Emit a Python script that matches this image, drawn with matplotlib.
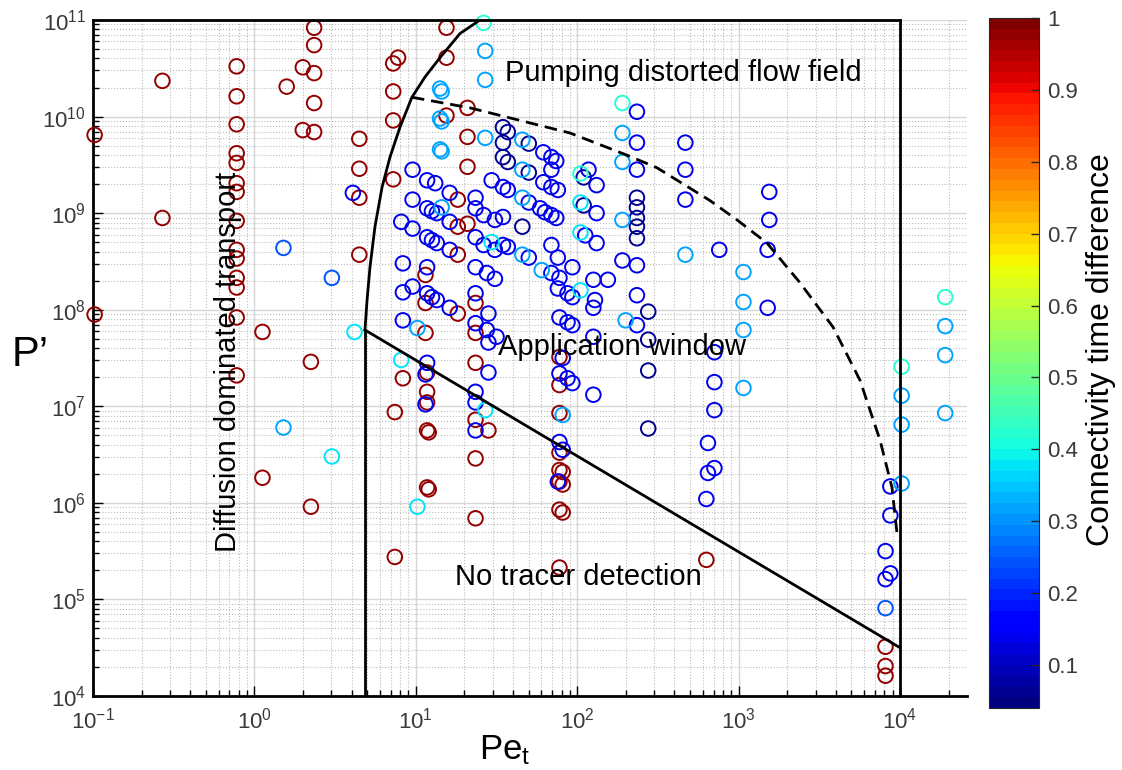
import numpy as np
import matplotlib.pyplot as plt
from matplotlib import colors, ticker
from matplotlib.cm import ScalarMappable

plt.rcParams['font.family'] = ['Liberation Sans', 'DejaVu Sans']
plt.rcParams['mathtext.fontset'] = 'custom'
plt.rcParams['mathtext.rm'] = 'Liberation Sans'
plt.rcParams['mathtext.it'] = 'Liberation Sans:italic'

# circles, stored as log10(Pe_t) and log10(P'), grouped by connectivity time difference
red_pe = [-0.99, -0.99, -0.57, -0.57,
          -0.11, -0.11, -0.11, -0.11, -0.11, -0.11, -0.11, -0.11, -0.11, -0.11, -0.11, -0.11, -0.11, -0.11,
          0.05, 0.05, 0.20, 0.30, 0.30, 0.35, 0.35,
          0.37, 0.37, 0.37, 0.37, 0.37,
          0.65, 0.65, 0.65, 0.65,
          0.86, 0.89, 0.86, 0.86, 0.86,
          1.19, 1.19, 1.19,
          1.32, 1.32, 1.32, 1.32,
          1.26, 1.26, 1.26, 1.26,
          1.06, 1.06, 1.06,
          1.37, 1.37, 1.37, 1.37, 1.37, 1.37,
          0.92, 0.87, 0.87,
          1.07, 1.07, 1.07, 1.07, 1.08, 1.07, 1.08,
          1.45,
          1.89, 1.89, 1.89, 1.89, 1.89, 1.91, 1.89, 1.91, 1.89, 1.91, 1.89,
          2.80, 3.91, 3.91, 3.91]
red_p = [9.81, 7.95, 10.37, 8.95,
         10.52, 10.21, 9.92, 9.62, 9.52, 9.31, 9.22, 8.92, 8.62, 8.53, 8.33, 8.23, 7.92, 7.32,
         7.77, 6.26, 10.31, 10.51, 9.86, 7.46, 5.96,
         10.92, 10.74, 10.45, 10.14, 9.84,
         9.77, 9.46, 9.16, 8.57,
         10.55, 10.61, 10.26, 9.96, 9.35,
         10.92, 10.61, 10.01,
         10.09, 9.79, 9.48, 8.89,
         9.14, 8.86, 8.57, 7.96,
         8.36, 8.07, 7.76,
         8.07, 7.76, 7.45, 6.86, 6.46, 5.84,
         7.29, 6.94, 5.44,
         7.35, 7.15, 7.04, 6.75, 6.73, 6.16, 6.14,
         6.75,
         7.51, 7.22, 6.93, 6.52, 6.34, 6.32, 6.22, 6.19, 5.93, 5.90, 5.33,
         5.41, 4.51, 4.31, 4.21]

dark_pe = [1.54, 1.57, 1.54, 1.54, 1.57, 1.70, 1.70, 1.66, 2.04, 2.04,
           2.37, 2.37, 2.37, 2.37, 2.37, 2.44, 2.44, 2.44, 2.44]
dark_p = [9.89, 9.84, 9.73, 9.58, 9.53, 9.72, 9.42, 8.86, 9.37, 9.08,
          9.16, 9.06, 8.95, 8.86, 8.74, 7.98, 7.69, 7.37, 6.77]

blue_pe = [0.61, 0.98, 1.07, 1.12, 1.21, 0.98, 1.07, 1.10, 1.13, 1.21,
           0.91, 0.98, 1.07, 1.10, 1.13, 1.21, 1.37, 1.37, 1.42, 1.37,
           1.42, 0.92, 1.07, 0.98, 0.92, 1.07, 1.10, 1.13, 1.21, 1.37,
           1.44, 1.49, 1.37, 1.45, 0.92, 1.37, 1.44, 1.45, 1.50, 1.07,
           1.06, 1.06, 1.45, 1.37, 1.37, 1.37, 1.47, 1.54, 1.57, 1.79,
           1.84, 1.87, 1.84, 1.79, 1.84, 1.88, 1.70, 1.49, 1.54, 1.77,
           1.80, 1.84, 1.87, 1.49, 1.54, 1.57, 1.84, 1.70, 1.88, 2.07,
           2.12, 2.12, 2.05, 2.12, 2.37, 2.37, 2.37, 2.28, 2.37, 1.84,
           1.89, 1.97, 1.88, 1.94, 1.97, 2.10, 2.19, 2.11, 2.10, 1.89,
           1.94, 1.97, 2.10, 1.91, 1.89, 1.94, 1.97, 2.10, 1.89, 1.91,
           1.88, 2.37, 2.37, 2.67, 2.67, 2.67, 2.88, 2.85, 2.85, 2.85,
           2.81, 2.81, 2.85, 2.80, 3.18, 3.19, 3.19, 3.18, 3.94, 3.94,
           3.91, 3.94, 3.91]
blue_p = [9.21, 9.45, 9.34, 9.31, 9.21, 9.14, 9.05, 9.02, 9.00, 8.91,
          8.91, 8.84, 8.75, 8.72, 8.69, 8.62, 9.16, 9.05, 8.98, 8.75,
          8.67, 8.48, 8.44, 8.24, 8.18, 8.17, 8.13, 8.10, 8.02, 8.44,
          8.38, 8.32, 8.17, 7.96, 7.89, 7.86, 7.79, 7.66, 7.72, 7.45,
          7.33, 7.02, 7.35, 7.15, 7.04, 6.75, 9.34, 9.27, 9.24, 9.63,
          9.58, 9.54, 9.45, 9.32, 9.27, 9.24, 9.11, 8.93, 8.96, 9.05,
          9.01, 8.98, 8.95, 8.62, 8.67, 8.65, 8.67, 8.54, 8.54, 9.45,
          9.29, 9.00, 8.77, 8.69, 10.05, 9.73, 9.45, 8.51, 8.46, 8.38,
          8.33, 8.44, 8.22, 8.17, 8.13, 8.31, 8.31, 8.10, 8.02, 7.92,
          7.87, 7.84, 7.72, 7.50, 7.34, 7.29, 7.24, 7.12, 6.63, 6.55,
          6.22, 8.15, 7.84, 9.73, 9.45, 9.14, 8.62, 7.56, 7.25, 6.96,
          6.62, 6.31, 6.36, 6.04, 8.62, 9.22, 8.93, 8.02, 6.17, 5.87,
          5.50, 5.27, 5.21]

light_pe = [0.18, 0.48, 3.91]
light_p = [8.64, 8.33, 4.91]

cyanblue_pe = [0.18, 1.43, 1.43, 1.15, 1.16, 1.15, 1.16, 1.15, 1.16, 1.43,
               1.16, 1.01, 1.66, 1.66, 1.66, 1.66, 2.28, 2.28, 2.28, 1.78,
               1.91, 2.30, 2.67, 3.03, 3.03, 3.03, 3.03, 4.28, 4.28, 4.28,
               4.01, 4.01, 4.01]
cyanblue_p = [6.78, 10.68, 10.38, 10.29, 10.26, 9.98, 9.95, 9.66, 9.64, 9.78,
              9.06, 7.81, 9.76, 9.45, 9.16, 8.57, 9.83, 9.53, 8.93, 8.41,
              6.91, 7.89, 8.57, 8.39, 8.08, 7.79, 7.19, 7.83, 7.53, 6.93,
              7.11, 6.81, 6.20]

cyan_pe = [0.48, 0.62, 0.91, 1.43, 1.01, 1.47, 2.02, 2.02, 2.02]
cyan_p = [6.48, 7.77, 7.48, 6.96, 5.96, 8.70, 9.11, 8.80, 8.20]

teal_pe = [1.42, 2.02, 2.28, 4.28, 4.01]
teal_p = [10.97, 9.41, 10.14, 8.13, 7.41]

groups = [(red_pe, red_p, 0.98), (dark_pe, dark_p, 0.06), (blue_pe, blue_p, 0.13),
          (light_pe, light_p, 0.24), (cyanblue_pe, cyanblue_p, 0.31),
          (cyan_pe, cyan_p, 0.37), (teal_pe, teal_p, 0.42)]

# region boundaries (log10 values)
curve_pe = [0.685, 0.698, 0.716, 0.747, 0.791, 0.840, 0.902, 0.976, 1.057, 1.150, 1.274, 1.398]
curve_p = [7.79, 8.10, 8.44, 8.86, 9.27, 9.58, 9.89, 10.20, 10.41, 10.61, 10.86, 11.0]
limit_pe = [0.685, 4.0]
limit_p = [7.79, 4.50]
dash_pe = [0.976, 1.336, 1.955, 2.309, 2.494, 2.823, 2.99, 3.176, 3.380, 3.585, 3.752, 3.876, 3.950, 3.981]
dash_p = [10.20, 10.09, 9.83, 9.60, 9.47, 9.13, 8.93, 8.69, 8.28, 7.82, 7.27, 6.65, 6.16, 5.69]

cmap = plt.get_cmap('jet', 64)
norm = colors.Normalize(vmin=0.04, vmax=1.0)

fig = plt.figure(figsize=(11.22, 7.70), dpi=100)
ax = fig.add_axes([93 / 1122, 74 / 770, 874 / 1122, 676 / 770])
ax.set_xscale('log')
ax.set_yscale('log')
ax.set_xlim(0.1, 2.6e4)
ax.set_ylim(1e4, 1e11)

# grid, MATLAB style
ax.grid(True, which='major', color='#d6d6d6', linewidth=1.0, linestyle='-', zorder=0)
ax.grid(True, which='minor', color='#bcbcbc', linewidth=0.8, linestyle=':', zorder=0)
ax.set_axisbelow(True)

for pe, p, v in groups:
    ax.scatter(10 ** np.array(pe), 10 ** np.array(p), s=110, facecolors='none',
               edgecolors=[cmap(norm(v))], linewidths=1.4, zorder=3, clip_on=False)

lc = 'black'
ax.plot(10 ** np.array(curve_pe), 10 ** np.array(curve_p), color=lc, lw=2, zorder=4)
ax.plot([10 ** curve_pe[0]] * 2, [1e4, 10 ** curve_p[0]], color=lc, lw=2, zorder=4)
ax.plot(10 ** np.array(limit_pe), 10 ** np.array(limit_p), color=lc, lw=2, zorder=4)
ax.plot(10 ** np.array(dash_pe), 10 ** np.array(dash_p), color=lc, lw=2,
        linestyle=(0, (4.5, 2.5)), zorder=4)
# outer box
ax.plot([0.1, 1e4], [1e11, 1e11], color=lc, lw=2, zorder=4, clip_on=False)
ax.plot([1e4, 1e4], [1e4, 1e11], color=lc, lw=2, zorder=4, clip_on=False)

fs = 21
ax.text(10 ** 1.553, 10 ** 10.45, 'Pumping distorted flow field', fontsize=fs,
        ha='left', va='center', zorder=5)
ax.text(10 ** 1.509, 10 ** 7.61, 'Application window', fontsize=fs,
        ha='left', va='center', zorder=5)
ax.text(10 ** 1.243, 10 ** 5.23, 'No tracer detection', fontsize=fs,
        ha='left', va='center', zorder=5)
ax.text(10 ** -0.164, 10 ** 7.46, 'Diffusion dominated transport', fontsize=fs,
        rotation=90, ha='center', va='center', zorder=5)

for s in ['top', 'right']:
    ax.spines[s].set_visible(False)
for s in ['left', 'bottom']:
    ax.spines[s].set_linewidth(2)

ax.xaxis.set_major_locator(ticker.LogLocator(base=10, numticks=20))
ax.xaxis.set_minor_locator(ticker.LogLocator(base=10, subs=np.arange(2, 10), numticks=20))
ax.yaxis.set_major_locator(ticker.LogLocator(base=10, numticks=20))
ax.yaxis.set_minor_locator(ticker.LogLocator(base=10, subs=np.arange(2, 10), numticks=20))
ax.xaxis.set_minor_formatter(ticker.NullFormatter())
ax.yaxis.set_minor_formatter(ticker.NullFormatter())
ax.tick_params(which='both', direction='in', top=False, right=False, color='black', width=1)
ax.tick_params(which='major', length=7, labelsize=16, labelcolor='#3a3a3a')
ax.tick_params(which='minor', length=4)
ax.tick_params(axis='x', which='major', pad=8)
ax.tick_params(axis='y', which='major', pad=5)

ax.set_xlabel('Pe$_\\mathregular{t}$', fontsize=25, va='baseline')
ax.xaxis.set_label_coords(0.471, -0.094)
ax.set_ylabel('P\u2019', fontsize=30, rotation=0, va='center', ha='center')
ax.yaxis.set_label_coords(-0.072, 0.504)

cax = fig.add_axes([989 / 1122, 62 / 770, 50 / 1122, 690 / 770])
cb = fig.colorbar(ScalarMappable(norm=norm, cmap=cmap), cax=cax)
cb.set_ticks(np.arange(0.1, 1.01, 0.1))
cb.ax.yaxis.set_major_formatter(ticker.FuncFormatter(lambda v, pos: f'{v:g}'))
cb.ax.tick_params(direction='in', length=6, width=1, labelsize=16, labelcolor='#3a3a3a',
                  color='#262626', pad=6)
cb.outline.set_linewidth(0.8)
cb.outline.set_edgecolor('#262626')
cb.set_label('Connectivity time difference', fontsize=23, va='center')
cb.ax.yaxis.set_label_coords(2.24, 0.52)

fig.savefig('out.png', dpi=100)
